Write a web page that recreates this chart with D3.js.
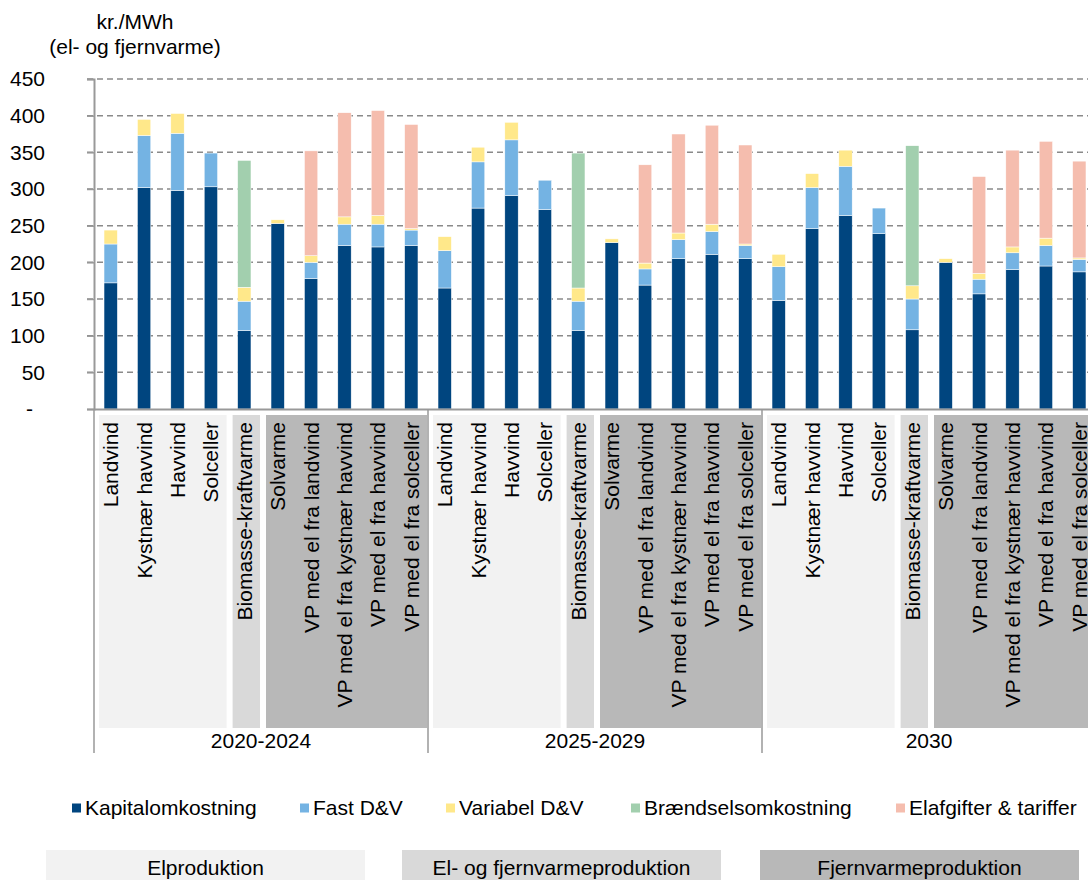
<!DOCTYPE html>
<html>
<head>
<meta charset="utf-8">
<script src="https://cdn.jsdelivr.net/npm/d3@7"></script>
<style>
  body { margin: 0; background: #fff; }
  svg text { font-family: "Liberation Sans", Arial, sans-serif; fill: #000; }
</style>
</head>
<body>
<svg id="chart" width="1088" height="880"></svg>
<script>
// categories and periods
var categories = ["Landvind", "Kystnær havvind", "Havvind", "Solceller", "Biomasse-kraftvarme",
  "Solvarme", "VP med el fra landvind", "VP med el fra kystnær havvind", "VP med el fra havvind", "VP med el fra solceller"];
var periods = ["2020-2024", "2025-2029", "2030"];
var yTicks = [0, 50, 100, 150, 200, 250, 300, 350, 400, 450];

// series values, 10 per period
var kapital =    [172, 302, 298, 303, 107, 253, 178, 223, 221, 223,
                  165, 274, 291, 272, 107, 227, 169, 205, 211, 205,
                  148, 246, 264, 239, 108, 200, 157, 190, 195, 187];
var fastDV =     [53, 71, 78, 46, 40, 0, 22, 29, 31, 21,
                  51, 63, 76, 40, 40, 0, 22, 26, 31, 18,
                  46, 56, 67, 35, 42, 0, 20, 23, 28, 17];
var variabelDV = [19, 22, 27, 0, 19, 5, 9, 10, 12, 2,
                  19, 20, 24, 0, 18, 5, 8, 9, 10, 2,
                  17, 19, 22, 0, 18, 5, 8, 8, 10, 2];
var braendsel =  [0, 0, 0, 0, 173, 0, 0, 0, 0, 0,
                  0, 0, 0, 0, 184, 0, 0, 0, 0, 0,
                  0, 0, 0, 0, 191, 0, 0, 0, 0, 0];
var elafgifter = [0, 0, 0, 0, 0, 0, 143, 142, 143, 142,
                  0, 0, 0, 0, 0, 0, 134, 135, 135, 135,
                  0, 0, 0, 0, 0, 0, 132, 132, 132, 132];

var seriesNames = ["Kapitalomkostning", "Fast D&V", "Variabel D&V", "Brændselsomkostning", "Elafgifter & tariffer"];
var seriesColors = ["#00457f", "#74b3e3", "#ffe88a", "#a2cfae", "#f5bdae"];
var bandNames = ["Elproduktion", "El- og fjernvarmeproduktion", "Fjernvarmeproduktion"];
var bandColors = ["#f2f2f2", "#d9d9d9", "#b8b8b8"];

var rows = kapital.map(function(d, i) {
  return { idx: i, s0: kapital[i], s1: fastDV[i], s2: variabelDV[i], s3: braendsel[i], s4: elafgifter[i] };
});

var svg = d3.select("#chart");
var plotL = 94, plotR = 1096, plotT = 79, plotB = 409;
var fs = 21;

var x = d3.scaleBand()
  .domain(d3.range(rows.length))
  .range([plotL, plotR])
  .paddingInner(0.6)
  .paddingOuter(0.3);

var y = d3.scaleLinear().domain([0, 450]).range([plotB, plotT]);

// gridlines
svg.append("g").selectAll("line")
  .data(yTicks.filter(function(d) { return d > 0; }))
  .enter().append("line")
  .attr("x1", plotL - 7).attr("x2", 1088)
  .attr("y1", function(d) { return y(d); })
  .attr("y2", function(d) { return y(d); })
  .attr("stroke", "#8a8a8a")
  .attr("stroke-width", 1.5)
  .attr("stroke-dasharray", "6,4");

// category label backgrounds
var step = x.step();
var bandRanges = [[0, 4], [4, 5], [5, 10]];
periods.forEach(function(p, g) {
  bandRanges.forEach(function(r, k) {
    var x0 = plotL + (g * 10 + r[0]) * step;
    var x1 = plotL + (g * 10 + r[1]) * step;
    svg.append("rect")
      .attr("x", x0 + 5).attr("y", 415)
      .attr("width", x1 - x0 - 6).attr("height", 313)
      .attr("fill", bandColors[k]);
  });
});

// stacked bars
var stack = d3.stack().keys(["s0", "s1", "s2", "s3", "s4"]);
var stacked = stack(rows);

svg.append("g").selectAll("g")
  .data(stacked)
  .enter().append("g")
  .attr("fill", function(d, i) { return seriesColors[i]; })
  .selectAll("rect")
  .data(function(d) { return d; })
  .enter().append("rect")
  .attr("x", function(d) { return x(d.data.idx); })
  .attr("width", x.bandwidth())
  .attr("y", function(d) { return y(d[1]); })
  .attr("height", function(d) { return y(d[0]) - y(d[1]); })
  .attr("stroke", "#ffffff")
  .attr("stroke-width", function(d) { return d[1] - d[0] > 0 ? 0.5 : 0; });

// y axis
var yAxis = svg.append("g")
  .attr("transform", "translate(" + plotL + ",0)")
  .call(d3.axisLeft(y).tickValues(yTicks).tickSize(7).tickPadding(42)
    .tickFormat(function(d) { return d === 0 ? "-" : d; }));
yAxis.select(".domain").attr("stroke", "#999").attr("stroke-width", 2);
yAxis.selectAll(".tick line").attr("stroke", "#999").attr("stroke-width", 1.5);
yAxis.selectAll(".tick text").attr("font-size", fs)
  .attr("dx", function(d) { return d === 0 ? -12 : 0; });

// x axis with rotated category labels
var xAxis = svg.append("g")
  .attr("transform", "translate(0," + plotB + ")")
  .call(d3.axisBottom(x).tickSize(0).tickSizeOuter(0)
    .tickFormat(function(i) { return categories[i % 10]; }));
xAxis.select(".domain").attr("stroke", "#999").attr("stroke-width", 2);
xAxis.selectAll(".tick text")
  .attr("transform", "rotate(-90)")
  .attr("x", -13)
  .attr("y", 0)
  .attr("dy", "0.36em")
  .attr("text-anchor", "end")
  .attr("font-size", fs);

// group separators and period labels
svg.append("g").selectAll("line")
  .data(d3.range(periods.length + 1))
  .enter().append("line")
  .attr("x1", function(g) { return plotL + g * 10 * step; })
  .attr("x2", function(g) { return plotL + g * 10 * step; })
  .attr("y1", plotB).attr("y2", 753)
  .attr("stroke", "#999").attr("stroke-width", 1.5);

svg.append("g").selectAll("text")
  .data(periods)
  .enter().append("text")
  .attr("x", function(d, g) { return plotL + (g * 10 + 5) * step; })
  .attr("y", 741)
  .attr("dy", "0.35em")
  .attr("text-anchor", "middle")
  .attr("font-size", fs)
  .text(function(d) { return d; });

// axis title
svg.append("text").attr("x", 135).attr("y", 29).attr("text-anchor", "middle")
  .attr("font-size", fs).text("kr./MWh");
svg.append("text").attr("x", 135).attr("y", 54).attr("text-anchor", "middle")
  .attr("font-size", fs).text("(el- og fjernvarme)");

// legend
var legendX = [72, 300, 446, 631, 896];
var legend = svg.append("g").selectAll("g")
  .data(seriesNames)
  .enter().append("g")
  .attr("transform", function(d, i) { return "translate(" + legendX[i] + ",808)"; });
legend.append("rect").attr("x", 0).attr("y", -4.5).attr("width", 9).attr("height", 9)
  .attr("fill", function(d, i) { return seriesColors[i]; });
legend.append("text").attr("x", 13).attr("dy", "0.35em").attr("font-size", fs)
  .text(function(d) { return d; });

// bottom category boxes
var boxX = [46, 402, 760];
var boxes = svg.append("g").selectAll("g")
  .data(bandNames)
  .enter().append("g")
  .attr("transform", function(d, i) { return "translate(" + boxX[i] + ",850)"; });
boxes.append("rect").attr("width", 319).attr("height", 32)
  .attr("fill", function(d, i) { return bandColors[i]; });
boxes.append("text").attr("x", 159.5).attr("y", 18).attr("dy", "0.35em")
  .attr("text-anchor", "middle").attr("font-size", fs)
  .text(function(d) { return d; });
</script>
</body>
</html>
